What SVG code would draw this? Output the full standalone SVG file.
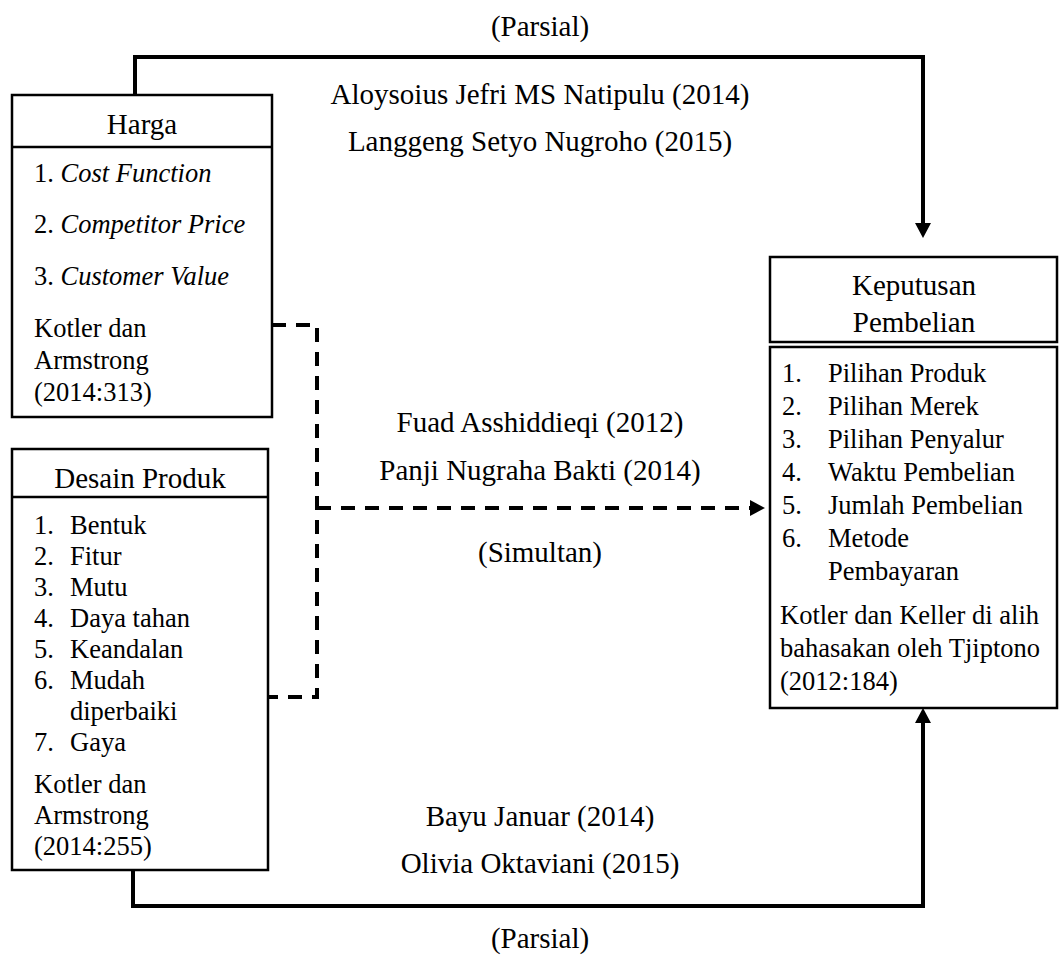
<svg xmlns="http://www.w3.org/2000/svg" width="1059" height="957" viewBox="0 0 1059 957">
<style>
text{font-family:"Liberation Serif","Times New Roman",serif;fill:#000}
.h{font-size:29px}
.b{font-size:26.5px}
.c{text-anchor:middle}
.i{font-style:italic}
.box{fill:#fff;stroke:#000;stroke-width:2.5}
.solid{fill:none;stroke:#000;stroke-width:4}
.dash{fill:none;stroke:#000;stroke-width:4;stroke-dasharray:14 10}
</style>
<defs>
<marker id="arr" markerUnits="userSpaceOnUse" markerWidth="16" markerHeight="16" refX="0" refY="8" orient="auto">
<path d="M0,0 L15,8 L0,16 Z" fill="#000"/>
</marker>
</defs>
<rect width="1059" height="957" fill="#fff"/>
<g id="connectors">
<path class="solid" d="M135,95 V57 H923 V223" marker-end="url(#arr)"/>
<path class="solid" d="M133,870 V906 H923 V723" marker-end="url(#arr)"/>
<path class="dash" d="M272,325 H317 V697 H268"/>
<path class="dash" d="M317,508 H750" marker-end="url(#arr)"/>
</g>
<g id="labels">
<text class="h c" x="540" y="36">(Parsial)</text>
<text class="h c" x="540" y="104">Aloysoius Jefri MS Natipulu (2014)</text>
<text class="h c" x="540" y="151">Langgeng Setyo Nugroho (2015)</text>
<text class="h c" x="540" y="432">Fuad Asshiddieqi (2012)</text>
<text class="h c" x="540" y="480">Panji Nugraha Bakti (2014)</text>
<text class="h c" x="540" y="562">(Simultan)</text>
<text class="h c" x="540" y="826">Bayu Januar (2014)</text>
<text class="h c" x="540" y="873">Olivia Oktaviani (2015)</text>
<text class="h c" x="540" y="948">(Parsial)</text>
</g>
<g id="harga">
<rect class="box" x="12" y="95" width="260" height="322"/>
<line x1="12" y1="147" x2="272" y2="147" stroke="#000" stroke-width="2.5"/>
<text class="h c" x="142" y="134">Harga</text>
<text class="b" x="34" y="182">1. <tspan class="i">Cost Function</tspan></text>
<text class="b" x="34" y="233">2. <tspan class="i">Competitor Price</tspan></text>
<text class="b" x="34" y="285">3. <tspan class="i">Customer Value</tspan></text>
<text class="b" x="34" y="337">Kotler dan</text>
<text class="b" x="34" y="369">Armstrong</text>
<text class="b" x="34" y="401">(2014:313)</text>
</g>
<g id="desain">
<rect class="box" x="12" y="449" width="256" height="421"/>
<line x1="12" y1="497" x2="268" y2="497" stroke="#000" stroke-width="2.5"/>
<text class="h c" x="140" y="488">Desain Produk</text>
<text class="b" x="34" y="534">1.</text><text class="b" x="70" y="534">Bentuk</text>
<text class="b" x="34" y="565">2.</text><text class="b" x="70" y="565">Fitur</text>
<text class="b" x="34" y="596">3.</text><text class="b" x="70" y="596">Mutu</text>
<text class="b" x="34" y="627">4.</text><text class="b" x="70" y="627">Daya tahan</text>
<text class="b" x="34" y="658">5.</text><text class="b" x="70" y="658">Keandalan</text>
<text class="b" x="34" y="689">6.</text><text class="b" x="70" y="689">Mudah</text>
<text class="b" x="70" y="720">diperbaiki</text>
<text class="b" x="34" y="751">7.</text><text class="b" x="70" y="751">Gaya</text>
<text class="b" x="34" y="793">Kotler dan</text>
<text class="b" x="34" y="824">Armstrong</text>
<text class="b" x="34" y="855">(2014:255)</text>
</g>
<g id="keputusan">
<rect class="box" x="770" y="257" width="287" height="85" stroke-width="3"/>
<text class="h c" x="914" y="295">Keputusan</text>
<text class="h c" x="914" y="332">Pembelian</text>
<rect class="box" x="770" y="347" width="287" height="361"/>
<text class="b" x="782" y="382">1.</text><text class="b" x="828" y="382">Pilihan Produk</text>
<text class="b" x="782" y="415">2.</text><text class="b" x="828" y="415">Pilihan Merek</text>
<text class="b" x="782" y="448">3.</text><text class="b" x="828" y="448">Pilihan Penyalur</text>
<text class="b" x="782" y="481">4.</text><text class="b" x="828" y="481">Waktu Pembelian</text>
<text class="b" x="782" y="514">5.</text><text class="b" x="828" y="514">Jumlah Pembelian</text>
<text class="b" x="782" y="547">6.</text><text class="b" x="828" y="547">Metode</text>
<text class="b" x="828" y="580">Pembayaran</text>
<text class="b" x="780" y="624">Kotler dan Keller di alih</text>
<text class="b" x="780" y="657">bahasakan oleh Tjiptono</text>
<text class="b" x="780" y="690">(2012:184)</text>
</g>
</svg>
